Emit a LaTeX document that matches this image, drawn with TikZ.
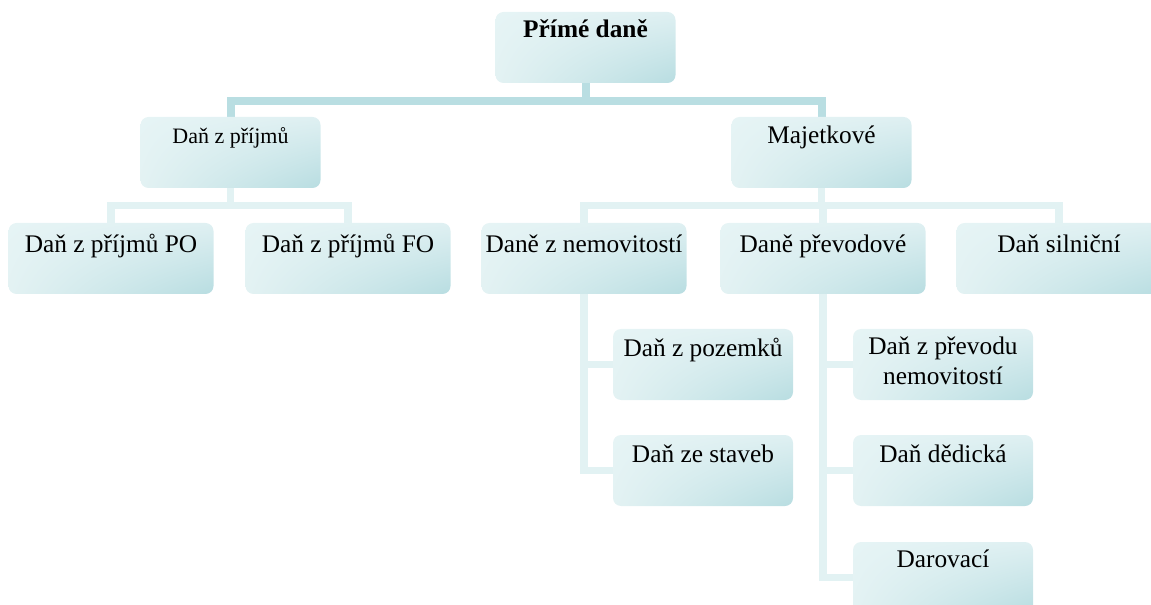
\documentclass[tikz,border=0pt]{standalone}
\usepackage{fontspec}
\setmainfont{Liberation Serif}
\usetikzlibrary{shadings}
\pgfdeclarelayer{background}
\pgfsetlayers{background,main}
\definecolor{boxA}{HTML}{E6F4F5}
\definecolor{boxB}{HTML}{DFF0F2}
\definecolor{boxC}{HTML}{E3F2F3}
\definecolor{boxD}{HTML}{B8DDE1}
\definecolor{lineDark}{HTML}{B9DEE2}
\definecolor{lineLight}{HTML}{E2F2F3}
\tikzset{
  box/.style={rectangle, rounded corners=6pt, inner sep=0pt,
    minimum height=53.25pt, shade,
    upper left=boxA, upper right=boxB, lower left=boxC, lower right=boxD},
  boxN/.style={box, minimum width=135pt},
  boxW/.style={box, minimum width=153.75pt},
  txt/.style={inner sep=0pt, anchor=base, text=black,
    font=\fontsize{19}{22.5}\selectfont},
  txtS/.style={txt, font=\fontsize{16.5}{19.5}\selectfont},
  txtB/.style={txt, font=\fontsize{19}{22.5}\selectfont\bfseries},
  connA/.style={draw=lineDark, line width=6pt, line join=miter},
  connB/.style={draw=lineLight, line width=5.6pt, line join=miter},
}
\begin{document}
\begin{tikzpicture}[x=0.75pt, y=-0.75pt]
\useasboundingbox (0,0) rectangle (1151,605);
\clip (0,0) rectangle (1151,605);
% boxes
\node[boxN] (top) at (585.5,47.5) {};
\node[boxN] (prijmy) at (230.5,152.5) {};
\node[boxN] (majet) at (821.5,152.5) {};
\node[boxW] (po) at (111,258.5) {};
\node[boxW] (fo) at (348,258.5) {};
\node[boxW] (nemov) at (584,258.5) {};
\node[boxW] (prevod) at (823,258.5) {};
\node[boxW] (silnic) at (1059,258.5) {};
\node[boxN] (pozem) at (703,364.5) {};
\node[boxN] (stavby) at (703,470.5) {};
\node[boxN] (prnem) at (943,364.5) {};
\node[boxN] (dedic) at (943,470.5) {};
\node[boxN] (darov) at (943,577.5) {};
% texts
\node[txtB] (topT) at ([yshift=-19.5pt]top.north) {Přímé daně};
\node[txtS] (prijmyT) at ([yshift=-19.8pt]prijmy.north) {Daň z příjmů};
\node[txt] (majetT) at ([yshift=-20pt]majet.north) {Majetkové};
\node[txt] (poT) at ([yshift=-22pt]po.north) {Daň z příjmů PO};
\node[txt] (foT) at ([yshift=-22pt]fo.north) {Daň z příjmů FO};
\node[txt] (nemovT) at ([yshift=-22pt]nemov.north) {Daně z nemovitostí};
\node[txt] (prevodT) at ([yshift=-22pt]prevod.north) {Daně převodové};
\node[txt] (silnicT) at ([yshift=-22pt]silnic.north) {Daň silniční};
\node[txt] (pozemT) at ([yshift=-21pt]pozem.north) {Daň z pozemků};
\node[txt] (stavbyT) at ([yshift=-21pt]stavby.north) {Daň ze staveb};
\node[txt] (prnemT) at ([yshift=-19.5pt]prnem.north) {\begin{tabular}[t]{@{}c@{}}Daň z převodu\\nemovitostí\end{tabular}};
\node[txt] (dedicT) at ([yshift=-21pt]dedic.north) {Daň dědická};
\node[txt] (darovT) at ([yshift=-19.5pt]darov.north) {Darovací};
% connectors
\begin{pgfonlayer}{background}
\draw[connA] (top.south) -- ++(0,17.5) -| (prijmy.north);
\draw[connA] (top.south) -- ++(0,17.5) -| (majet.north);
\draw[connB] (prijmy.south) -- ++(0,17.5) -| (po.north);
\draw[connB] (prijmy.south) -- ++(0,17.5) -| (fo.north);
\draw[connB] (majet.south) -- ++(0,17.5) -| (nemov.north);
\draw[connB] (majet.south) -- ++(0,17.5) -| (prevod.north);
\draw[connB] (majet.south) -- ++(0,17.5) -| (silnic.north);
\draw[connB] (nemov.south) |- (pozem.west);
\draw[connB] (nemov.south) |- (stavby.west);
\draw[connB] (prevod.south) |- (prnem.west);
\draw[connB] (prevod.south) |- (dedic.west);
\draw[connB] (prevod.south) |- (darov.west);
\end{pgfonlayer}
\end{tikzpicture}
\end{document}
